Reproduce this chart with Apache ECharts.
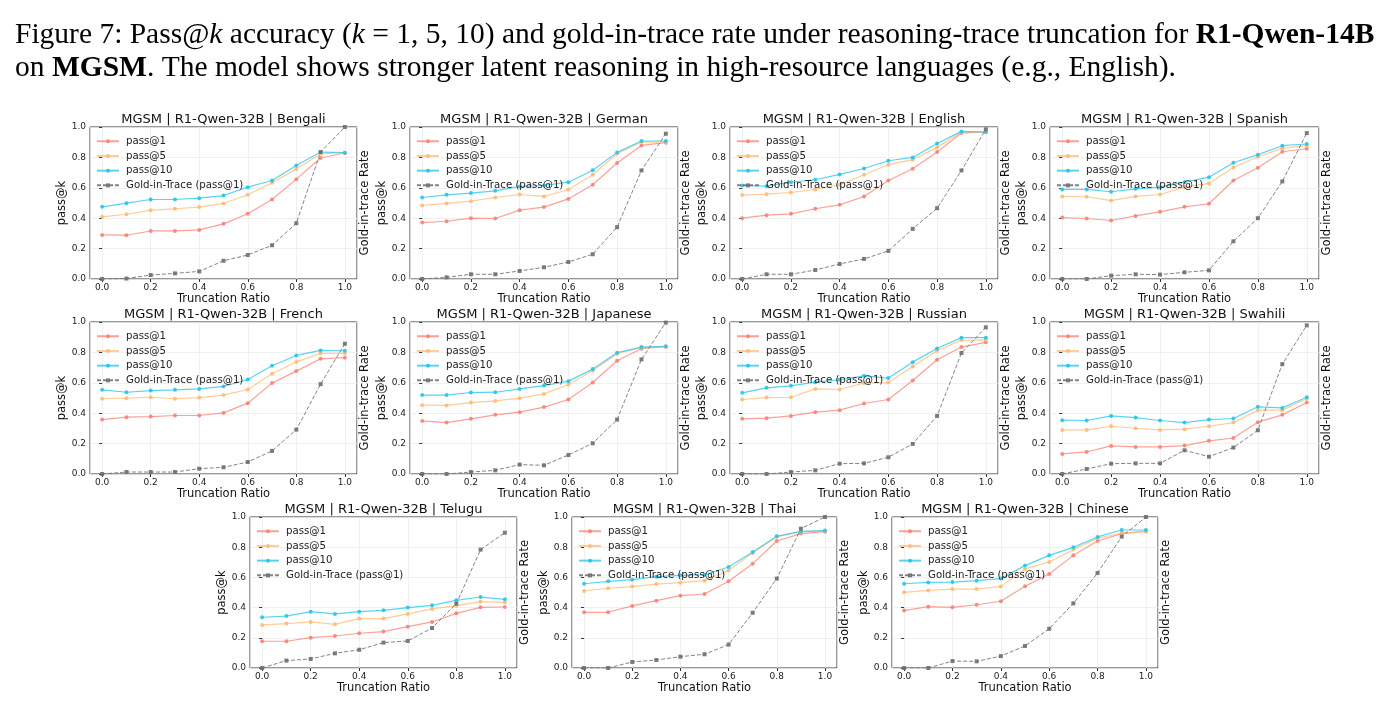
<!DOCTYPE html>
<html>
<head>
<meta charset="utf-8">
<script src="https://cdn.jsdelivr.net/npm/echarts@6/dist/echarts.min.js"></script>
<style>
html, body { margin: 0; padding: 0; background: #fff; }
#chart { width: 1392px; height: 714px; }
</style>
</head>
<body>
<div id="chart"></div>
<script>
var ratios = [0.0, 0.1, 0.2, 0.3, 0.4, 0.5, 0.6, 0.7, 0.8, 0.9, 1.0];
var languages = ['Bengali', 'German', 'English', 'Spanish', 'French', 'Japanese',
                 'Russian', 'Swahili', 'Telugu', 'Thai', 'Chinese'];
var seriesNames = ['pass@1', 'pass@5', 'pass@10', 'Gold-in-Trace (pass@1)'];

// one row per language, same order as languages
var pass1 = [
  [0.29, 0.288, 0.316, 0.316, 0.323, 0.363, 0.429, 0.523, 0.657, 0.796, 0.829],
  [0.371, 0.38, 0.40, 0.398, 0.453, 0.473, 0.527, 0.62, 0.763, 0.879, 0.897],
  [0.40, 0.42, 0.429, 0.462, 0.488, 0.543, 0.648, 0.725, 0.835, 0.96, 0.967],
  [0.404, 0.398, 0.385, 0.415, 0.442, 0.475, 0.495, 0.648, 0.732, 0.837, 0.857],
  [0.358, 0.374, 0.378, 0.385, 0.385, 0.402, 0.466, 0.598, 0.677, 0.758, 0.765],
  [0.349, 0.338, 0.363, 0.389, 0.407, 0.44, 0.49, 0.602, 0.745, 0.824, 0.837],
  [0.363, 0.367, 0.382, 0.407, 0.42, 0.464, 0.49, 0.615, 0.752, 0.835, 0.866],
  [0.132, 0.145, 0.185, 0.178, 0.178, 0.187, 0.218, 0.237, 0.341, 0.389, 0.47],
  [0.177, 0.177, 0.201, 0.212, 0.23, 0.241, 0.274, 0.305, 0.362, 0.402, 0.404],
  [0.369, 0.369, 0.411, 0.446, 0.479, 0.49, 0.574, 0.691, 0.841, 0.89, 0.903],
  [0.38, 0.406, 0.402, 0.419, 0.442, 0.541, 0.623, 0.746, 0.841, 0.89, 0.907]
];
var pass5 = [
  [0.409, 0.426, 0.453, 0.462, 0.473, 0.497, 0.554, 0.633, 0.723, 0.824, 0.831],
  [0.484, 0.497, 0.512, 0.536, 0.556, 0.543, 0.589, 0.686, 0.824, 0.901, 0.901],
  [0.552, 0.558, 0.569, 0.589, 0.62, 0.686, 0.752, 0.785, 0.866, 0.967, 0.967],
  [0.543, 0.541, 0.516, 0.543, 0.556, 0.604, 0.629, 0.734, 0.804, 0.859, 0.877],
  [0.495, 0.499, 0.505, 0.495, 0.503, 0.519, 0.556, 0.659, 0.738, 0.793, 0.793],
  [0.453, 0.451, 0.47, 0.481, 0.499, 0.527, 0.589, 0.679, 0.791, 0.833, 0.837],
  [0.49, 0.503, 0.505, 0.56, 0.556, 0.598, 0.602, 0.708, 0.811, 0.881, 0.881],
  [0.29, 0.29, 0.314, 0.301, 0.29, 0.295, 0.314, 0.338, 0.42, 0.42, 0.495],
  [0.285, 0.294, 0.305, 0.289, 0.327, 0.327, 0.358, 0.391, 0.413, 0.439, 0.435],
  [0.51, 0.528, 0.539, 0.556, 0.565, 0.578, 0.645, 0.762, 0.87, 0.903, 0.907],
  [0.501, 0.514, 0.523, 0.523, 0.539, 0.656, 0.702, 0.784, 0.859, 0.894, 0.903]
];
var pass10 = [
  [0.475, 0.499, 0.523, 0.523, 0.532, 0.549, 0.604, 0.648, 0.747, 0.835, 0.831],
  [0.536, 0.554, 0.565, 0.58, 0.609, 0.615, 0.637, 0.716, 0.833, 0.908, 0.908],
  [0.615, 0.611, 0.637, 0.653, 0.688, 0.727, 0.778, 0.80, 0.892, 0.971, 0.967],
  [0.589, 0.589, 0.574, 0.593, 0.604, 0.637, 0.67, 0.765, 0.818, 0.877, 0.888],
  [0.554, 0.538, 0.549, 0.554, 0.56, 0.576, 0.622, 0.712, 0.78, 0.813, 0.811],
  [0.519, 0.519, 0.536, 0.538, 0.56, 0.582, 0.611, 0.69, 0.798, 0.835, 0.84],
  [0.534, 0.567, 0.58, 0.604, 0.62, 0.646, 0.631, 0.736, 0.826, 0.897, 0.897],
  [0.354, 0.352, 0.382, 0.371, 0.352, 0.338, 0.358, 0.365, 0.442, 0.435, 0.505],
  [0.336, 0.344, 0.373, 0.358, 0.373, 0.382, 0.40, 0.415, 0.448, 0.47, 0.455],
  [0.558, 0.574, 0.585, 0.605, 0.614, 0.618, 0.669, 0.768, 0.872, 0.905, 0.91],
  [0.558, 0.567, 0.569, 0.578, 0.592, 0.678, 0.746, 0.799, 0.868, 0.914, 0.914]
];
var gold = [
  [0.0, 0.003, 0.026, 0.037, 0.05, 0.12, 0.158, 0.222, 0.367, 0.835, 1.0],
  [0.0, 0.011, 0.031, 0.031, 0.053, 0.077, 0.112, 0.163, 0.341, 0.714, 0.956],
  [0.0, 0.031, 0.031, 0.059, 0.099, 0.132, 0.185, 0.33, 0.466, 0.714, 0.985],
  [0.0, 0.0, 0.022, 0.031, 0.029, 0.044, 0.057, 0.248, 0.40, 0.642, 0.96],
  [0.0, 0.013, 0.013, 0.013, 0.035, 0.044, 0.079, 0.152, 0.292, 0.591, 0.857],
  [0.0, 0.0, 0.013, 0.024, 0.062, 0.057, 0.125, 0.202, 0.358, 0.754, 0.996],
  [0.0, 0.0, 0.013, 0.024, 0.068, 0.07, 0.11, 0.198, 0.382, 0.796, 0.965],
  [0.0, 0.033, 0.068, 0.07, 0.07, 0.156, 0.114, 0.174, 0.288, 0.723, 0.978],
  [0.0, 0.049, 0.06, 0.097, 0.121, 0.168, 0.179, 0.265, 0.426, 0.784, 0.896],
  [0.0, 0.0, 0.04, 0.053, 0.075, 0.091, 0.155, 0.366, 0.592, 0.923, 1.0],
  [0.0, 0.0, 0.046, 0.044, 0.079, 0.146, 0.26, 0.428, 0.629, 0.87, 1.0]
];

// plot boxes [left, top, width, height] in px
var boxes = [
  [90, 127, 267, 152], [410, 127, 268, 152], [730, 127, 268, 152], [1050, 127, 269, 152],
  [90, 322, 267, 152], [410, 322, 268, 152], [730, 322, 268, 152], [1050, 322, 269, 152],
  [250, 517, 267, 151], [572, 517, 265, 151], [892, 517, 266, 151]
];

var colors = ['#f98276', '#fdbb74', '#22c6ea', '#6f6f6f'];
var font = 'DejaVu Sans';

var grids = [], xAxes = [], yAxes = [], series = [], legends = [], texts = [];

function pts(arr) {
  return ratios.map(function (x, i) { return [x, arr[i]]; });
}

languages.forEach(function (lang, g) {
  var b = boxes[g];
  grids.push({
    left: b[0], top: b[1], width: b[2], height: b[3],
    show: true, borderColor: '#333', borderWidth: 1, backgroundColor: 'transparent'
  });
  xAxes.push({
    type: 'value', gridIndex: g, min: -0.05, max: 1.05, splitNumber: 5,
    name: 'Truncation Ratio', nameLocation: 'middle', nameGap: 14,
    nameTextStyle: { fontFamily: font, fontSize: 11.5, color: '#111' },
    axisLine: { show: false },
    axisTick: { show: true, length: 3, lineStyle: { color: '#333' } },
    axisLabel: {
      margin: 4, fontFamily: font, fontSize: 9, color: '#222',
      showMinLabel: false, showMaxLabel: false,
      formatter: function (v) { return v.toFixed(1); }
    },
    splitLine: { show: true, lineStyle: { color: '#ececec', width: 0.8 } }
  });
  yAxes.push({
    type: 'value', gridIndex: g, min: 0, max: 1, interval: 0.2,
    name: 'pass@k', nameLocation: 'middle', nameGap: 18,
    nameTextStyle: { fontFamily: font, fontSize: 11.5, color: '#111' },
    axisLine: { show: false },
    axisTick: { show: true, length: 3, lineStyle: { color: '#333' } },
    axisLabel: {
      margin: 4, fontFamily: font, fontSize: 9, color: '#222',
      formatter: function (v) { return v.toFixed(1); }
    },
    splitLine: { show: true, lineStyle: { color: '#ececec', width: 0.8 } }
  });
  yAxes.push({
    type: 'value', gridIndex: g, min: 0, max: 1, position: 'right',
    name: 'Gold-in-trace Rate', nameLocation: 'middle', nameGap: 2, nameRotate: 90,
    nameTextStyle: { fontFamily: font, fontSize: 11.5, color: '#111', verticalAlign: 'top' },
    axisLine: { show: false }, axisTick: { show: false },
    axisLabel: { show: false }, splitLine: { show: false }
  });

  [pass1, pass5, pass10].forEach(function (src, k) {
    series.push({
      name: seriesNames[k], type: 'line', xAxisIndex: g, yAxisIndex: 2 * g,
      data: pts(src[g]), symbol: 'circle', symbolSize: 4, showSymbol: true,
      lineStyle: { color: colors[k], width: 1.2, opacity: 0.75 },
      itemStyle: { color: colors[k], opacity: 0.9 },
      animation: false
    });
  });
  series.push({
    name: seriesNames[3], type: 'line', xAxisIndex: g, yAxisIndex: 2 * g + 1,
    data: pts(gold[g]), symbol: 'rect', symbolSize: 4, showSymbol: true,
    lineStyle: { color: colors[3], width: 1, type: [4, 2], opacity: 0.85 },
    itemStyle: { color: colors[3], opacity: 0.9 },
    z: 3, animation: false
  });

  legends.push({
    data: seriesNames, orient: 'vertical', left: b[0] + 6, top: b[1] + 9,
    padding: 0, itemWidth: 22, itemHeight: 5, itemGap: 4.2,
    textStyle: { fontFamily: font, fontSize: 10.2, color: '#222', lineHeight: 10.5, padding: [0, 0, 0, 2] },
    selectedMode: false
  });

  texts.push({
    type: 'text', x: b[0] + b[2] / 2, y: b[1] - 7,
    style: { text: 'MGSM | R1-Qwen-32B | ' + lang, font: '13px "DejaVu Sans"', fill: '#111',
             align: 'center', verticalAlign: 'middle' }
  });
});

var serif = '"Liberation Serif", "DejaVu Serif", serif';
var capSize = 29.5;
var capRich = {
  i: { fontFamily: serif, fontSize: capSize, fontStyle: 'italic', fill: '#000' },
  b: { fontFamily: serif, fontSize: capSize, fontWeight: 'bold', fill: '#000' }
};
texts.push({
  type: 'text', x: 15, y: 35,
  style: {
    text: 'Figure 7: Pass@{i|k} accuracy ({i|k} = 1, 5, 10) and gold-in-trace rate under reasoning-trace truncation for {b|R1-Qwen-14B}',
    font: capSize + 'px ' + serif, fill: '#000', align: 'left', verticalAlign: 'middle', rich: capRich
  }
});
texts.push({
  type: 'text', x: 15, y: 68,
  style: {
    text: 'on {b|MGSM}. The model shows stronger latent reasoning in high-resource languages (e.g., English).',
    font: capSize + 'px ' + serif, fill: '#000', align: 'left', verticalAlign: 'middle', rich: capRich
  }
});

var chart = echarts.init(document.getElementById('chart'));
chart.setOption({
  animation: false,
  grid: grids,
  xAxis: xAxes,
  yAxis: yAxes,
  legend: legends,
  series: series,
  graphic: texts
});
</script>
</body>
</html>
